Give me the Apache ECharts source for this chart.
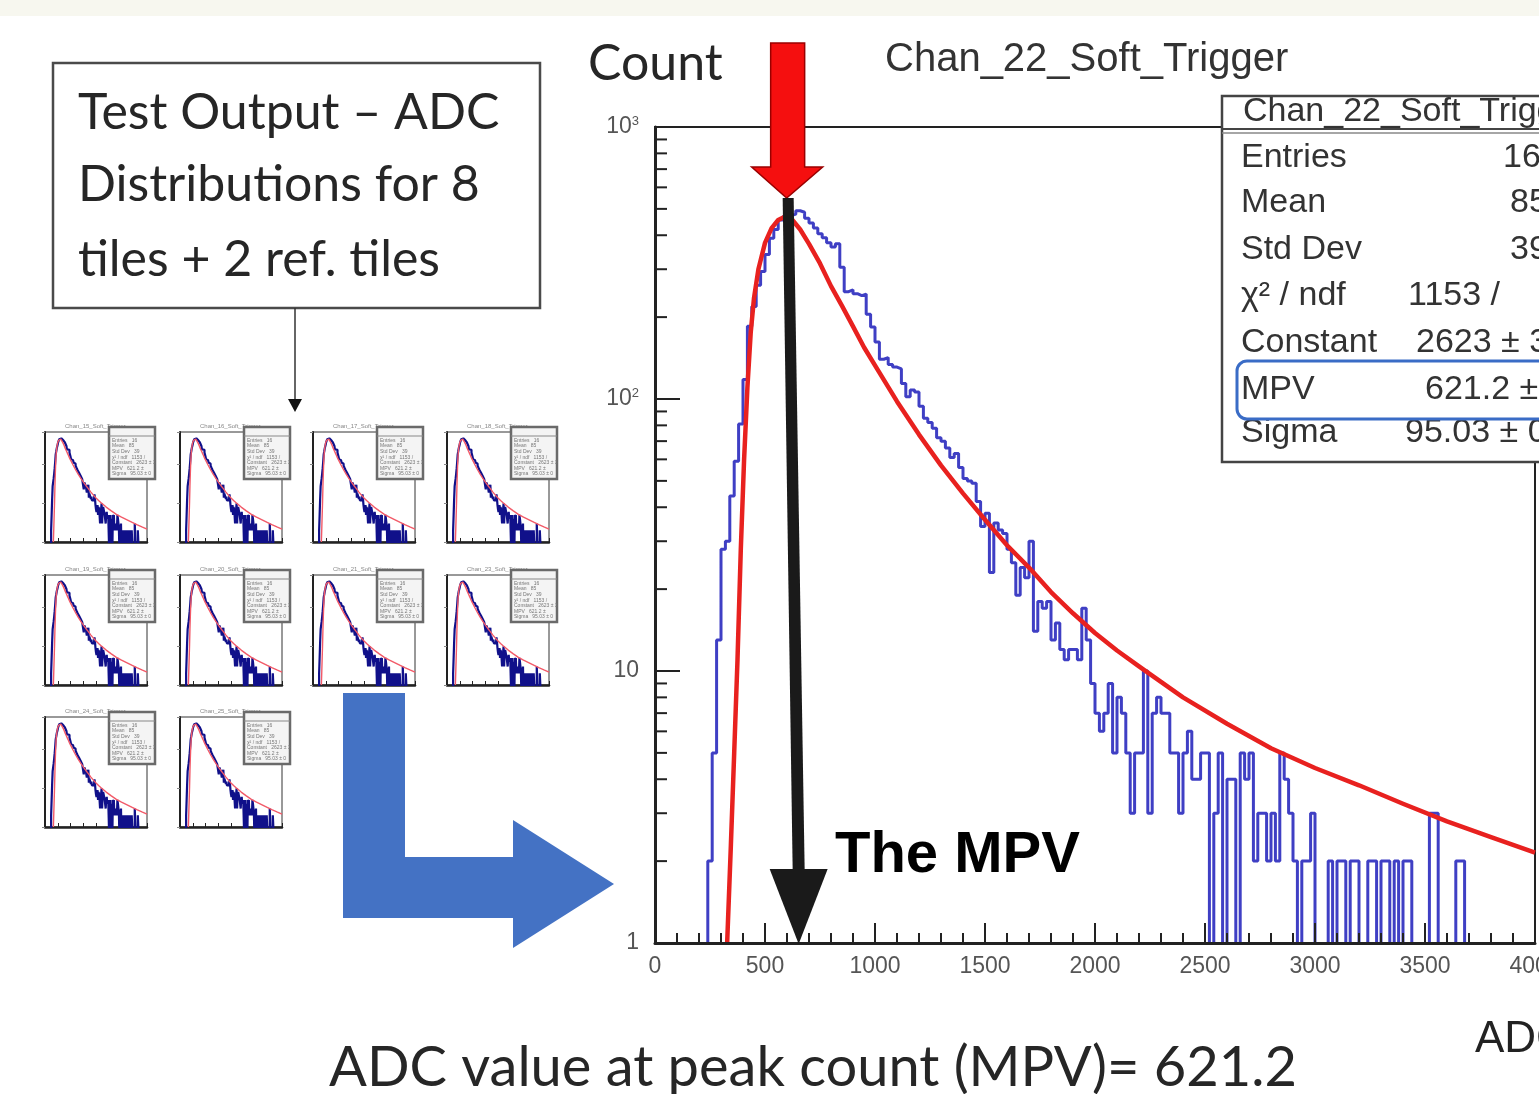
<!DOCTYPE html>
<html>
<head>
<meta charset="utf-8">
<script src="https://cdn.jsdelivr.net/npm/echarts@6/dist/echarts.min.js"></script>
<style>
  html, body { margin: 0; padding: 0; background: #fff; }
  #chart { width: 1539px; height: 1094px; }
</style>
</head>
<body>
<div id="chart"></div>
<script>
// histogram: ADC bins of 20, counts (bin i starts at i*20)
var binWidth = 20
var binCounts = [
  0, 0, 0, 0, 0, 0, 0, 0, 0, 0, 0, 0,
  2, 5, 13, 28, 30, 44, 59, 81, 118, 185, 219, 262, 294, 340, 390, 420, 455, 468,
  472, 478, 492, 486, 462, 444, 425, 405, 392, 375, 362, 372, 305, 248, 252, 244, 240, 243, 205, 184,
  162, 140, 142, 134, 131, 129, 114, 102, 108, 106, 94, 85, 82, 78, 72, 70, 66, 61, 63, 56,
  51, 50, 49, 42, 34, 38, 23, 35, 33, 32, 28, 25, 19, 24, 22, 30, 14, 18, 17, 18,
  13, 15, 12, 11, 12, 12, 11, 17, 13, 9, 7, 6, 7, 9, 5, 8, 7, 5, 3, 5,
  5, 10, 3, 7, 8, 7, 7, 5, 5, 3, 5, 6, 4, 4, 5, 5, 0, 3, 5, 0,
  4, 4, 0, 5, 4, 5, 2, 3, 3, 2, 3, 2, 5, 4, 3, 2, 0, 2, 2, 3,
  0, 0, 0, 2, 0, 2, 2, 0, 2, 2, 0, 0, 2, 2, 0, 2, 2, 0, 2, 0,
  2, 2, 0, 0, 0, 0, 3, 3, 0, 0, 0, 0, 2, 2, 0, 0, 0, 0, 0, 0,
  0, 0, 0, 0, 0, 0, 0, 0, 0, 0
]

// Landau fit curve
var fitAdc = [328, 345, 360, 375, 390, 405, 420, 435, 450, 470, 500, 530, 560, 590, 620, 660, 700, 750, 800, 850,
  900, 950, 1000, 1100, 1200, 1300, 1400, 1500, 1600, 1700, 1800, 1900, 2000, 2100, 2200, 2400, 2600, 2800, 3000, 3200,
  3400, 3600, 3800, 4000]
var fitCount = [1, 2.3, 5, 11, 28, 60, 110, 175, 235, 300, 375, 425, 455, 468, 460, 420, 372, 315, 260, 220,
  185, 155, 133, 98, 74, 57, 45, 36, 29, 24, 19.5, 16.3, 13.8, 11.9, 10.4, 8.0, 6.4, 5.2, 4.4, 3.8,
  3.25, 2.8, 2.45, 2.15]

var yMinorTicks = [2, 3, 4, 5, 6, 7, 8, 9, 20, 30, 40, 50, 60, 70, 80, 90, 200, 300, 400, 500, 600, 700, 800, 900]

var statNames = ['Entries', 'Mean', 'Std Dev', 'χ² / ndf', 'Constant', 'MPV', 'Sigma']
var statValues = ['16', '85', '39', '1153 / ', '2623 ± 3', '621.2 ±', '95.03 ± 0']
var mpv = 621.2

var tileTitles = ['Chan_15_Soft_Trigger', 'Chan_16_Soft_Trigger', 'Chan_17_Soft_Trigger', 'Chan_18_Soft_Trigger',
  'Chan_19_Soft_Trigger', 'Chan_20_Soft_Trigger', 'Chan_21_Soft_Trigger', 'Chan_23_Soft_Trigger',
  'Chan_24_Soft_Trigger', 'Chan_25_Soft_Trigger']

var rootFont = 'Liberation Sans'
var slideFont = 'Lato'

var histData = binCounts.map(function (c, i) {
  return [i * binWidth, c > 0 ? c : 0.5] // empty bins drop below the log floor
})
histData.push([binCounts.length * binWidth, binCounts[binCounts.length - 1] || 0.5])
var fitData = fitAdc.map(function (x, i) { return [x, fitCount[i]] })

var chart = echarts.init(document.getElementById('chart'))

var grids = [{
  left: 655, top: 127, width: 880, height: 816, outerBoundsMode: 'none',
  show: true, borderColor: '#222', borderWidth: 2
}]
var xAxes = [{
  gridIndex: 0, type: 'value', min: 0, max: 4000, interval: 500, z: 10,
  axisLine: { onZero: false, lineStyle: { color: '#222', width: 3 } },
  axisTick: { inside: true, length: 20, lineStyle: { color: '#222', width: 2 } },
  minorTick: { show: true, splitNumber: 5, length: 10, lineStyle: { color: '#222', width: 2 } },
  axisLabel: { margin: 12, fontSize: 23, color: '#555', fontFamily: rootFont, formatter: function (v) { return String(v) } },
  splitLine: { show: false }
}]
var yAxes = [{
  gridIndex: 0, type: 'log', logBase: 10, min: 1, max: 1000, z: 10,
  axisLine: { lineStyle: { color: '#222', width: 3 } },
  axisTick: { inside: true, length: 25, lineStyle: { color: '#222', width: 2 } },
  axisLabel: {
    margin: 16, fontSize: 23, color: '#555', fontFamily: rootFont,
    formatter: function (v) {
      if (v < 2) return '1'
      if (v < 20) return '10'
      return '10{s|' + Math.round(Math.log10(v)) + '}'
    },
    rich: { s: { fontSize: 13, color: '#555', fontFamily: rootFont, padding: [0, 0, 12, 0] } }
  },
  splitLine: { show: false }
}]
var series = [{
  type: 'line', xAxisIndex: 0, yAxisIndex: 0, step: 'end', data: histData,
  showSymbol: false, lineStyle: { color: '#3f3fc4', width: 3 }, z: 3
}, {
  type: 'line', xAxisIndex: 0, yAxisIndex: 0, data: fitData, smooth: false,
  showSymbol: false, lineStyle: { color: '#e8211f', width: 4.5, join: 'round' }, z: 4
}, {
  type: 'custom', xAxisIndex: 0, yAxisIndex: 0, z: 5,
  data: yMinorTicks.map(function (v) { return [0, v] }),
  renderItem: function (params, api) {
    var p = api.coord([0, api.value(1)])
    return { type: 'line', shape: { x1: p[0], y1: p[1], x2: p[0] + 12, y2: p[1] }, style: { stroke: '#222', lineWidth: 2 } }
  }
}]

// the 10 small tiles on the left
var tileCols = [45, 180, 313, 447]
var tileRows = [432, 575, 717]
var tileGraphics = []
tileTitles.forEach(function (name, k) {
  var left = tileCols[k % 4]
  var top = tileRows[Math.floor(k / 4)]
  var gi = k + 1
  grids.push({
    left: left, top: top, width: 102, height: 110, outerBoundsMode: 'none',
    show: true, borderColor: '#333', borderWidth: 1
  })
  xAxes.push({
    gridIndex: gi, type: 'value', min: 0, max: 4000, interval: 500,
    axisLine: { onZero: false, lineStyle: { color: '#222', width: 2.5 } },
    axisTick: { inside: true, length: 4, lineStyle: { color: '#222' } },
    axisLabel: { show: false }, splitLine: { show: false }
  })
  yAxes.push({
    gridIndex: gi, type: 'log', logBase: 10, min: 1, max: 700,
    axisLine: { lineStyle: { color: '#222', width: 2 } },
    axisTick: { length: 3, lineStyle: { color: '#888' } },
    axisLabel: { show: false }, splitLine: { show: false }
  })
  series.push({
    type: 'line', xAxisIndex: gi, yAxisIndex: gi, step: 'end', data: histData,
    showSymbol: false, lineStyle: { color: '#10108a', width: 2.2 }
  }, {
    type: 'line', xAxisIndex: gi, yAxisIndex: gi, data: fitData,
    showSymbol: false, lineStyle: { color: '#f25a68', width: 1.4 }, z: 4
  })
  tileGraphics.push({
    type: 'text', left: left + 20, top: top - 9,
    style: { text: name, fontSize: 6, fill: '#888', fontFamily: rootFont }
  })
  var box = {
    type: 'group', x: left + 64, y: top - 5, z: 20,
    children: [{
      type: 'rect', shape: { x: 0, y: 0, width: 46, height: 52 },
      style: { fill: '#f4f4f4', stroke: '#6a6a6a', lineWidth: 2.5 }
    }, {
      type: 'line', shape: { x1: 0, y1: 9, x2: 46, y2: 9 }, style: { stroke: '#888', lineWidth: 1 }
    }]
  }
  statNames.forEach(function (s, r) {
    box.children.push({
      type: 'text', x: 3, y: 11 + r * 5.6,
      style: { text: s + '   ' + statValues[r], fontSize: 5, fill: '#777', fontFamily: rootFont }
    })
  })
  tileGraphics.push(box)
})

chart.setOption({
  animation: false,
  backgroundColor: '#fff',
  title: {
    text: 'Chan_22_Soft_Trigger', left: 880, top: 35,
    textStyle: { fontFamily: rootFont, fontSize: 40, fontWeight: 'normal', color: '#333' }
  },
  grid: grids,
  xAxis: xAxes,
  yAxis: yAxes,
  series: series
})

// annotations placed from the MPV position on the main axis
var tip = chart.convertToPixel({ gridIndex: 0 }, [mpv, 1])
var mx = tip[0]

var statsTexts = []
statNames.forEach(function (s, r) {
  var y = [158, 203, 250, 296, 343, 390, 433][r]
  statsTexts.push({
    type: 'text', x: 1241, y: y, z: 31,
    style: { text: s, fontSize: 34, fill: '#333', fontFamily: rootFont, verticalAlign: 'middle' }
  }, {
    type: 'text', x: [1503, 1510, 1510, 1408, 1416, 1425, 1405][r], y: y, z: 31,
    style: { text: statValues[r], fontSize: 34, fill: '#333', fontFamily: rootFont, verticalAlign: 'middle' }
  })
})

chart.setOption({
  graphic: [
    { type: 'rect', shape: { x: 0, y: 0, width: 1539, height: 16 }, style: { fill: '#f7f7ef' }, z: 0 },
    // text box
    { type: 'rect', shape: { x: 53, y: 63, width: 487, height: 245 }, style: { fill: '#fff', stroke: '#4a4a4a', lineWidth: 2.5 } },
    { type: 'text', x: 78, y: 113, style: { text: 'Test Output – ADC', fontSize: 50, fill: '#262626', fontFamily: slideFont, verticalAlign: 'middle' } },
    { type: 'text', x: 78, y: 185, style: { text: 'Distributions for 8', fontSize: 50, fill: '#262626', fontFamily: slideFont, verticalAlign: 'middle' } },
    { type: 'text', x: 78, y: 260, style: { text: 'tiles + 2 ref. tiles', fontSize: 50, fill: '#262626', fontFamily: slideFont, verticalAlign: 'middle' } },
    { type: 'line', shape: { x1: 295, y1: 308, x2: 295, y2: 400 }, style: { stroke: '#333', lineWidth: 1.5 } },
    { type: 'polygon', shape: { points: [[288, 399], [302, 399], [295, 412]] }, style: { fill: '#111' } },
    // big blue elbow arrow
    {
      type: 'polygon', z: 5,
      shape: { points: [[343, 693], [405, 693], [405, 857], [513, 857], [513, 820], [614, 884], [513, 948], [513, 918], [343, 918]] },
      style: { fill: '#4472c4' }
    },
    { type: 'text', x: 588, y: 64, style: { text: 'Count', fontSize: 50, fill: '#262626', fontFamily: slideFont, verticalAlign: 'middle' } },
    // red arrow to the peak
    {
      type: 'polygon', z: 40,
      shape: { points: [[mx - 21, 43], [mx + 13, 43], [mx + 13, 167], [mx + 31, 167], [mx - 5, 198], [mx - 40, 167], [mx - 21, 167]] },
      style: { fill: '#f50f0f', stroke: '#9a0000', lineWidth: 1.5 }
    },
    // black arrow down to the MPV
    {
      type: 'polygon', z: 40,
      shape: { points: [[mx - 9, 198], [mx + 2, 198], [mx + 13, 870], [mx + 1, 870]] },
      style: { fill: '#1a1a1a' }
    },
    {
      type: 'polygon', z: 40,
      shape: { points: [[mx - 22, 869], [mx + 36, 869], [mx + 7, tip[1] + 1]] },
      style: { fill: '#1a1a1a' }
    },
    { type: 'text', x: 835, y: 856, z: 40, style: { text: 'The MPV', fontSize: 58, fontWeight: 'bold', fill: '#000', fontFamily: rootFont, verticalAlign: 'middle' } },
    // stats box
    { type: 'rect', z: 30, shape: { x: 1222, y: 96, width: 340, height: 366 }, style: { fill: '#fff', stroke: '#444', lineWidth: 2.5 } },
    { type: 'line', z: 31, shape: { x1: 1222, y1: 129, x2: 1560, y2: 129 }, style: { stroke: '#444', lineWidth: 2 } },
    { type: 'line', z: 31, shape: { x1: 1222, y1: 133, x2: 1560, y2: 133 }, style: { stroke: '#888', lineWidth: 1.5 } },
    { type: 'text', x: 1243, y: 112, z: 31, style: { text: 'Chan_22_Soft_Trigger', fontSize: 34, fill: '#333', fontFamily: rootFont, verticalAlign: 'middle' } },
    { type: 'rect', z: 32, shape: { x: 1237, y: 361, width: 330, height: 58, r: 10 }, style: { fill: 'none', stroke: '#3a6cc6', lineWidth: 3 } },
    // captions
    { type: 'text', x: 813, y: 1068, style: { text: 'ADC value at peak count (MPV)= 621.2', fontSize: 56, fill: '#262626', fontFamily: slideFont, align: 'center', verticalAlign: 'middle' } },
    { type: 'text', x: 1475, y: 1040, style: { text: 'ADC', fontSize: 44, fill: '#222', fontFamily: rootFont, verticalAlign: 'middle' } }
  ].concat(statsTexts).concat(tileGraphics)
})
</script>
</body>
</html>
